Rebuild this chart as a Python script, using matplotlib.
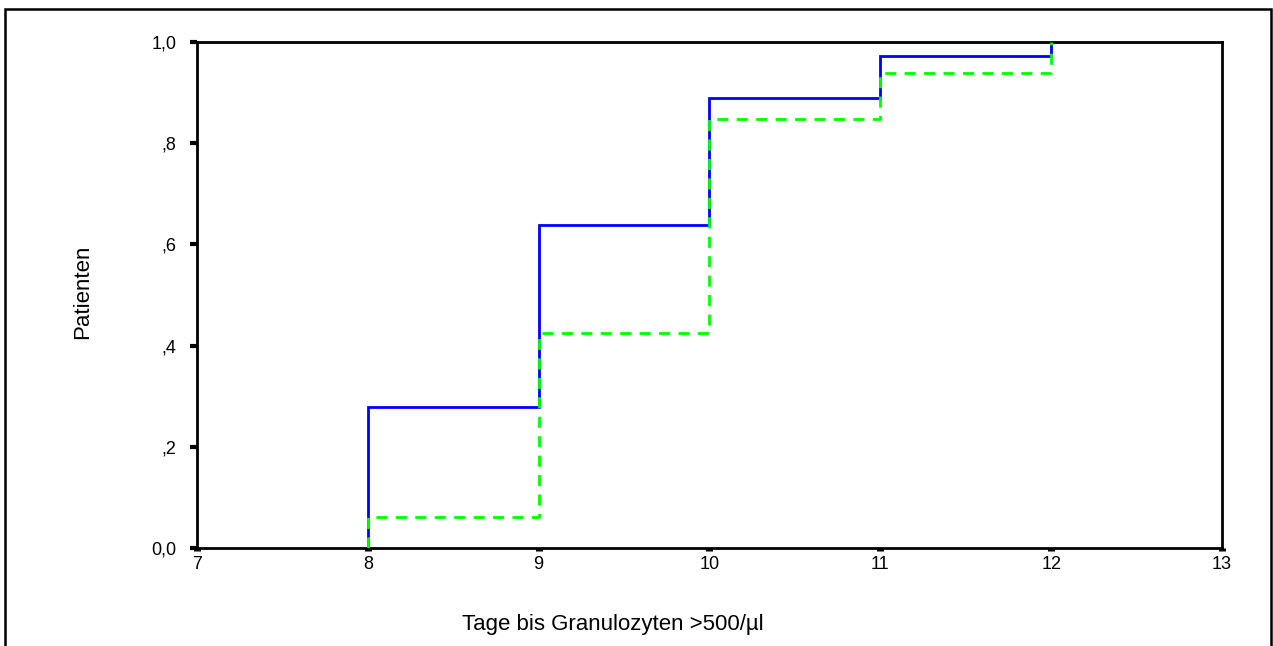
import matplotlib
matplotlib.use("Agg")
import matplotlib.pyplot as plt
from matplotlib.patches import Rectangle
from matplotlib.ticker import FixedLocator

plt.rcParams['font.family'] = ['Liberation Sans', 'DejaVu Sans']

# Cumulative share of patients reaching granulocytes >500/µl by day
days = [8, 9, 10, 11, 12]
group_a = [0.278, 0.639, 0.889, 0.972, 1.0]
group_b = [0.061, 0.424, 0.848, 0.939, 1.0]

x_ticks = [7, 8, 9, 10, 11, 12, 13]
y_ticks = [0.0, 0.2, 0.4, 0.6, 0.8, 1.0]
y_tick_labels = ["0,0", ",2", ",4", ",6", ",8", "1,0"]

W, H = 1273, 646
fig = plt.figure(figsize=(W / 100, H / 100), dpi=100)

# axes box in pixel coordinates
left, right, top, bottom = 197, 1222, 42, 548
ax = fig.add_axes([left / W, 1 - bottom / H, (right - left) / W, (bottom - top) / H])


def step_xy(xs, ys):
    """Vertices of a step curve starting at zero on the first event day."""
    px, py = [xs[0]], [0.0]
    prev = 0.0
    for x, y in zip(xs, ys):
        px += [x, x]
        py += [prev, y]
        prev = y
    return px, py


ax_x, ax_y = step_xy(days, group_a)
bx_x, bx_y = step_xy(days, group_b)
ax.plot(ax_x, ax_y, color="#0000ff", lw=2.0, solid_joinstyle="miter", zorder=2)
ax.plot(bx_x, bx_y, color="#00ff00", lw=2.0, linestyle=(0, (4, 3)), zorder=3)

ax.set_xlim(7, 13)
ax.set_ylim(0, 1.0)
ax.xaxis.set_major_locator(FixedLocator(x_ticks))
ax.set_xticklabels([str(t) for t in x_ticks])
ax.yaxis.set_major_locator(FixedLocator(y_ticks))
ax.set_yticklabels(y_tick_labels)
ax.tick_params(axis="x", direction="out", length=2, width=5, pad=4, labelsize=13)
ax.tick_params(axis="y", direction="out", length=5, width=3, pad=10, labelsize=13)
for s in ax.spines.values():
    s.set_linewidth(2)
    s.set_color("black")

fig.text(613 / W, 1 - 630 / H, "Tage bis Granulozyten >500/µl",
         ha="center", va="baseline", fontsize=16)
fig.text(88 / W, 1 - 292 / H, "Patienten", ha="center", va="baseline",
         rotation=90, rotation_mode="anchor", fontsize=16)

# frame around the whole chart
frame = Rectangle((5.5 / W, -0.05), (1271 - 5.5) / W, 1 - 9.5 / H + 0.05,
                  transform=fig.transFigure, fill=False, edgecolor="black", lw=1.8, clip_on=False)
fig.patches.append(frame)

fig.savefig("out.png", dpi=100)
